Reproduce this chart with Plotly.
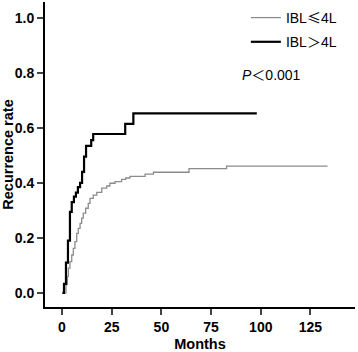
import plotly.graph_objects as go

# Black group: IBL > 4L
high_months = [0.2, 1.0, 2.0, 3.0, 4.0, 4.9, 6.0, 7.0, 8.0, 9.1, 10.1, 11.1, 12.1, 14.7, 15.7, 31.8, 35.9, 98]
high_rate = [0.0, 0.033, 0.11, 0.19, 0.295, 0.33, 0.35, 0.365, 0.385, 0.40, 0.44, 0.496, 0.535, 0.556, 0.578, 0.615, 0.653, 0.653]

# Gray group: IBL <= 4L
low_months = [1.0, 2.0, 2.7, 3.2, 4.0, 4.9, 5.7, 6.5, 7.4, 8.2, 9.1, 9.9, 10.7, 11.9, 13.2, 14.1, 15.7, 17.5,
              20.0, 22.5, 24.1, 26.7, 30.0, 32.0, 34.2, 41.8, 46.0, 63.9, 82.8, 133.6]
low_rate = [0.0, 0.03, 0.06, 0.09, 0.114, 0.138, 0.162, 0.187, 0.217, 0.235, 0.253, 0.272, 0.29, 0.308, 0.326,
            0.344, 0.356, 0.366, 0.381, 0.389, 0.399, 0.405, 0.413, 0.418, 0.424, 0.432, 0.439, 0.452, 0.461, 0.461]

x_ticks = [0, 25, 50, 75, 100, 125]
y_ticks = [0.0, 0.2, 0.4, 0.6, 0.8, 1.0]
y_tick_labels = ["0.0", "0.2", "0.4", "0.6", "0.8", "1.0"]

FONT = "Liberation Sans, Arial, Noto Sans CJK SC, sans-serif"
CJK = "Noto Sans CJK SC"

fig = go.Figure()
fig.add_trace(go.Scatter(x=low_months, y=low_rate, mode="lines", line_shape="hv",
                         line=dict(color="#8c8c8c", width=1.3),
                         name=f"IBL<span style='font-family:{CJK}'>≤</span>4L", legendgroup="a"))
fig.add_trace(go.Scatter(x=high_months, y=high_rate, mode="lines", line_shape="hv",
                         line=dict(color="#000000", width=2.2),
                         name=f"IBL<span style='font-family:{CJK}'>＞</span>4L", legendgroup="b"))

fig.update_layout(
    width=358, height=352,
    margin=dict(l=45, r=3, t=2, b=45),
    paper_bgcolor="white", plot_bgcolor="white",
    font=dict(family=FONT, color="black", size=13),
    showlegend=True,
    legend=dict(x=0.648, y=1.0, xanchor="left", yanchor="top", bgcolor="rgba(0,0,0,0)",
                font=dict(size=14, family=FONT), tracegroupgap=3, itemwidth=30),
    xaxis=dict(range=[-8.55, 147.4], tickvals=x_ticks, ticks="outside", ticklen=6, tickwidth=1.5,
               showline=True, linecolor="black", linewidth=2, showgrid=False, zeroline=False,
               automargin=False,
               tickfont=dict(size=14, family=FONT, weight="bold"),
               title=dict(text="<b>Months</b>", font=dict(size=14.5, family=FONT), standoff=7)),
    yaxis=dict(range=[-0.051, 1.058], tickvals=y_ticks, ticktext=y_tick_labels, ticks="outside",
               ticklen=6, tickwidth=1.5, automargin=False,
               showline=True, linecolor="black", linewidth=2, showgrid=False, zeroline=False,
               tickfont=dict(size=14, family=FONT, weight="bold"),
               title=dict(text="<b>Recurrence rate</b>", font=dict(size=14.5, family=FONT), standoff=4)),
)

fig.add_annotation(xref="paper", yref="paper", x=0.628, y=(352 - 45 - 74) / 305.0, xanchor="left",
                   yanchor="middle", showarrow=False,
                   text=f"<i>P</i><span style='font-family:{CJK}'>＜</span>0.001",
                   font=dict(size=14, family=FONT))

fig.write_html("out.html", config={"displayModeBar": False},
               post_script="document.body.style.margin='0';document.body.style.overflow='hidden';")
